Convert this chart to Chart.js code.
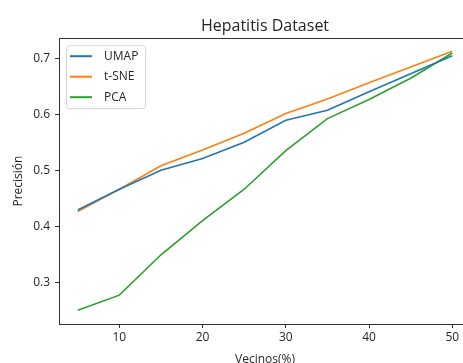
<!DOCTYPE html>
<html>
<head>
<meta charset="utf-8">
<script src="https://cdn.jsdelivr.net/npm/chart.js@4.4.0/dist/chart.umd.min.js"></script>
<style>
  body { margin: 0; overflow: hidden; background: #fff; }
  #wrap { width: 530px; height: 363px; }
</style>
</head>
<body>
<div id="wrap"><canvas id="chart"></canvas></div>
<script>
// neighbours (%) and precision per method
const vecinos = [5, 10, 15, 20, 25, 30, 35, 40, 45, 50];
const umap = [0.429, 0.466, 0.500, 0.521, 0.550, 0.589, 0.607, 0.640, 0.672, 0.704];
const tsne = [0.426, 0.466, 0.508, 0.536, 0.566, 0.601, 0.627, 0.656, 0.684, 0.712];
const pca  = [0.250, 0.277, 0.349, 0.410, 0.466, 0.535, 0.592, 0.626, 0.664, 0.709];

const xTicks = [10, 20, 30, 40, 50];
const yTicks = [0.3, 0.4, 0.5, 0.6, 0.7];

const FONT = '"Open Sans", "DejaVu Sans", sans-serif';
const TEXT = '#262626';

function points(ys){
    return vecinos.map((v, i) => ({ x: v, y: ys[i] }));
}

// box around the plot + legend in the upper left corner
const frameAndLegend = {
    id: 'frameAndLegend',
    afterDraw(chart){
        const ctx = chart.ctx;
        const a = chart.chartArea;
        ctx.save();
        ctx.strokeStyle = '#333';
        ctx.lineWidth = 1;
        ctx.strokeRect(Math.round(a.left) + 0.5, Math.round(a.top) + 0.5,
                       Math.round(a.right - a.left), Math.round(a.bottom - a.top));

        // legend
        const lx = a.left + 7, ly = a.top + 7, lw = 79, lh = 63;
        ctx.fillStyle = 'rgba(255,255,255,0.85)';
        ctx.strokeStyle = '#d6d6d6';
        ctx.beginPath();
        ctx.roundRect(lx + 0.5, ly + 0.5, lw, lh, 3);
        ctx.fill();
        ctx.stroke();

        ctx.font = '12px ' + FONT;
        ctx.textBaseline = 'middle';
        chart.data.datasets.forEach((ds, i) => {
            const y = ly + 11 + i * 20.5;
            ctx.strokeStyle = ds.borderColor;
            ctx.lineWidth = 2;
            ctx.beginPath();
            ctx.moveTo(lx + 4, y);
            ctx.lineTo(lx + 26, y);
            ctx.stroke();
            ctx.fillStyle = TEXT;
            ctx.fillText(ds.label, lx + 38, y);
        });
        ctx.restore();
    }
};

let ctx = document.getElementById('chart').getContext('2d');
let chart = new Chart(ctx, {
    type: 'line',
    data: {
        datasets: [
            { label: 'UMAP', data: points(umap), borderColor: '#1f77b4' },
            { label: 't-SNE', data: points(tsne), borderColor: '#ff7f0e' },
            { label: 'PCA', data: points(pca), borderColor: '#2ca02c' }
        ]
    },
    options: {
        animation: false,
        responsive: true,
        maintainAspectRatio: false,
        devicePixelRatio: 1,
        layout: { padding: { left: 0, right: 59, top: 0, bottom: 0 } },
        elements: {
            line: { borderWidth: 1.6, tension: 0, fill: false },
            point: { radius: 0 }
        },
        plugins: {
            legend: { display: false },
            tooltip: { enabled: false },
            title: {
                display: true,
                fullSize: false,
                text: 'Hepatitis Dataset',
                color: TEXT,
                font: { family: FONT, size: 16, weight: 'normal', lineHeight: 1.2 },
                padding: { top: 17, bottom: 2 }
            }
        },
        scales: {
            x: {
                type: 'linear',
                min: 2.75,
                max: 52.25,
                afterBuildTicks: s => { s.ticks = xTicks.map(v => ({ value: v })); },
                afterFit: s => { s.height = 39; },
                grid: { drawOnChartArea: false, drawTicks: true, tickLength: 4, color: '#333' },
                border: { display: false },
                ticks: { color: TEXT, padding: 2, font: { family: FONT, size: 12 }, maxRotation: 0 },
                title: {
                    display: true, text: 'Vecinos(%)', color: TEXT,
                    font: { family: FONT, size: 12, lineHeight: 0.5 }, padding: 0
                }
            },
            y: {
                type: 'linear',
                min: 0.2255,
                max: 0.7355,
                afterBuildTicks: s => { s.ticks = yTicks.map(v => ({ value: v })); },
                afterFit: s => { s.width = 59; },
                grid: { drawOnChartArea: false, drawTicks: true, tickLength: 4, color: '#333' },
                border: { display: false },
                ticks: {
                    color: TEXT, padding: 5, font: { family: FONT, size: 12 },
                    callback: v => v.toFixed(1)
                },
                title: {
                    display: true, text: 'Precisión', color: TEXT,
                    font: { family: FONT, size: 12, lineHeight: 1 }, padding: { top: 13, bottom: 0 }
                }
            }
        }
    },
    plugins: [frameAndLegend]
});
</script>
</body>
</html>
